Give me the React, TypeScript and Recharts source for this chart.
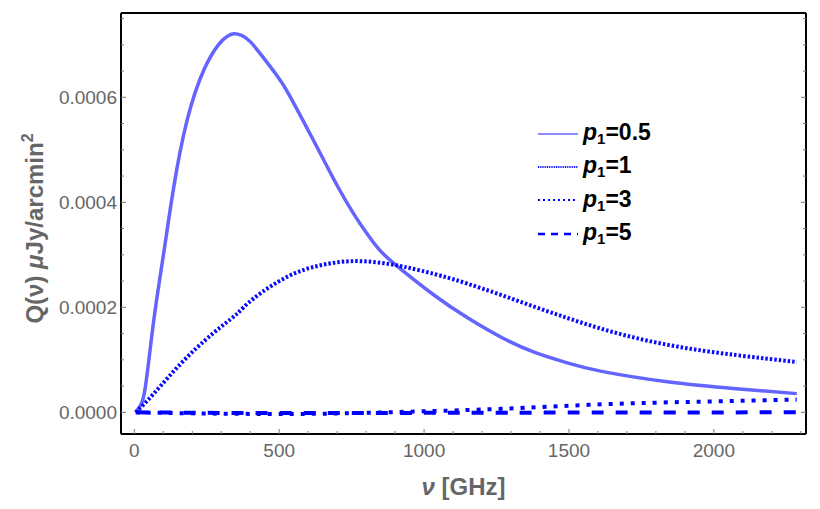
import { Legend, Line, LineChart, XAxis, YAxis } from 'recharts';

// frequency samples (GHz) and Q values (μJy/arcmin²)
const nuHalf = [5, 20, 38, 67, 101, 136, 182, 239, 290, 320, 343, 370, 400, 446, 490, 527, 580, 642, 700, 757, 810, 850, 908, 1035, 1150, 1266, 1382, 1498, 1613, 1846, 2077, 2286];
const qHalf = [0, 0.000012, 0.000048, 0.000175, 0.000302, 0.000429, 0.000556, 0.000651, 0.0007, 0.000716, 0.000721, 0.000718, 0.000706, 0.000675, 0.000643, 0.000612, 0.000558, 0.000493, 0.000432, 0.000378, 0.000335, 0.000307, 0.000278, 0.000223, 0.00018, 0.000143, 0.000114, 0.0000935, 0.000078, 0.0000577, 0.0000451, 0.0000356];

const nuOne = [5, 67, 182, 297, 355, 412, 527, 642, 757, 873, 988, 1150, 1382, 1613, 1846, 2077, 2286];
const qOne = [0, 0.0000356, 0.000105, 0.000162, 0.000188, 0.000217, 0.000258, 0.00028, 0.000288, 0.000283, 0.00027, 0.000245, 0.000201, 0.000159, 0.000128, 0.000109, 0.0000958];

const nuThree = [5, 200, 400, 600, 800, 1000, 1266, 1612, 1961, 2286];
const qThree = [0, -0.000002, -0.000003, -0.000003, -0.000001, 0.000002, 0.0000067, 0.0000152, 0.0000204, 0.0000242];

const nuFive = [5, 500, 1000, 1500, 2286];
const qFive = [0, -0.0000015, -0.000001, -0.0000005, 0];

const seriesNames = ['0.5', '1', '3', '5'];

const xTicks = [0, 100, 200, 300, 400, 500, 600, 700, 800, 900, 1000, 1100, 1200, 1300, 1400, 1500, 1600, 1700, 1800, 1900, 2000, 2100, 2200, 2300];
const xLabelled = [0, 500, 1000, 1500, 2000];
const yTicks = [0, 0.00005, 0.0001, 0.00015, 0.0002, 0.00025, 0.0003, 0.00035, 0.0004, 0.00045, 0.0005, 0.00055, 0.0006, 0.00065, 0.0007, 0.00075];
const yLabelled = [0, 0.0002, 0.0004, 0.0006];

const X_DOMAIN = [-46, 2318];
const Y_DOMAIN = [-0.0000413, 0.0007606];

const FONT = '"Liberation Sans", Arial, sans-serif';
const TICK_GREY = '#7a7a7a';
const LABEL_GREY = '#666666';

const styles = [
    { stroke: '#6464ff', width: 3.5, dash: undefined, legendWidth: 1.5, legendDash: undefined },
    { stroke: '#0a0aff', width: 4, dash: '2.5 2', legendWidth: 2, legendDash: '1 0.8' },
    { stroke: '#0000ff', width: 4, dash: '4 7', legendWidth: 2, legendDash: '2 3' },
    { stroke: '#0000ff', width: 4, dash: '12 12', legendWidth: 2.5, legendDash: '7 6' },
];

const toPoints = (xs: number[], ys: number[]) => xs.map((nu, i) => ({ nu, q: ys[i] }));

const isLabelledX = (v: number) => xLabelled.includes(v);
const isLabelledY = (v: number) => yLabelled.some((m) => Math.abs(m - v) < 1e-9);

function BottomTick({ x, y, payload }: any) {
    const major = isLabelledX(payload.value);
    return (
        <g>
            <line x1={x} x2={x} y1={y} y2={y - (major ? 5 : 3)} stroke={TICK_GREY} />
            {major && (
                <text x={x} y={y + 23} textAnchor="middle" fill={LABEL_GREY} fontSize={19} fontFamily={FONT}>
                    {payload.value}
                </text>
            )}
        </g>
    );
}

function TopTick({ x, y, payload }: any) {
    const major = isLabelledX(payload.value);
    return <line x1={x} x2={x} y1={y} y2={y + (major ? 5 : 3)} stroke={TICK_GREY} />;
}

function LeftTick({ x, y, payload }: any) {
    const major = isLabelledY(payload.value);
    return (
        <g>
            <line x1={x} x2={x + (major ? 5 : 3)} y1={y} y2={y} stroke={TICK_GREY} />
            {major && (
                <text x={x - 4} y={y + 7} textAnchor="end" fill={LABEL_GREY} fontSize={19} fontFamily={FONT}>
                    {payload.value.toFixed(4)}
                </text>
            )}
        </g>
    );
}

function RightTick({ x, y, payload }: any) {
    const major = isLabelledY(payload.value);
    return <line x1={x} x2={x - (major ? 5 : 3)} y1={y} y2={y} stroke={TICK_GREY} />;
}

function XTitle({ viewBox }: any) {
    const cx = viewBox.x + viewBox.width / 2;
    return (
        <text x={cx} y={viewBox.y + 61} textAnchor="middle" fill={LABEL_GREY} fontSize={24} fontWeight="bold" fontFamily={FONT}>
            <tspan fontStyle="italic">ν</tspan>
            <tspan> [GHz]</tspan>
        </text>
    );
}

function YTitle({ viewBox }: any) {
    const cy = viewBox.y + viewBox.height / 2 + 5;
    const cx = 35;
    return (
        <text
            x={cx}
            y={cy}
            transform={`rotate(-90 ${cx} ${cy})`}
            textAnchor="middle"
            fill={LABEL_GREY}
            fontSize={24}
            fontWeight="bold"
            fontFamily={FONT}
        >
            <tspan>Q(ν) </tspan>
            <tspan fontStyle="italic">μ</tspan>
            <tspan>Jy/arcmin</tspan>
            <tspan fontSize={16} dy={-10}>2</tspan>
        </text>
    );
}

function LegendBox() {
    return (
        <div style={{ fontFamily: FONT }}>
            {seriesNames.map((name, i) => (
                <div key={name} style={{ display: 'flex', alignItems: 'center', height: 33.3 }}>
                    <svg width={40} height={10} style={{ display: 'block' }}>
                        <line
                            x1={0}
                            x2={40}
                            y1={5}
                            y2={5}
                            stroke={styles[i].stroke}
                            strokeWidth={styles[i].legendWidth}
                            strokeDasharray={styles[i].legendDash}
                        />
                    </svg>
                    <span style={{ marginLeft: 5, fontSize: 23, fontWeight: 'bold', color: '#000', lineHeight: 1 }}>
                        <i>p</i>
                        <sub style={{ fontSize: 15, verticalAlign: -4 }}>1</sub>={name}
                    </span>
                </div>
            ))}
        </div>
    );
}

const seriesData = [
    toPoints(nuHalf, qHalf),
    toPoints(nuOne, qOne),
    toPoints(nuThree, qThree),
    toPoints(nuFive, qFive),
];

export default function App() {
    const frame = { stroke: '#000', strokeWidth: 2 };
    return (
        <LineChart width={804} height={493} margin={{ top: 4, right: 5, bottom: 0, left: 0 }}>
            <XAxis
                xAxisId={0}
                dataKey="nu"
                type="number"
                domain={X_DOMAIN}
                allowDataOverflow
                ticks={xTicks}
                interval={0}
                height={67}
                tickSize={0}
                tickMargin={0}
                tickLine={false}
                axisLine={frame}
                tick={BottomTick}
                label={{ content: XTitle }}
            />
            <XAxis
                xAxisId="top"
                orientation="top"
                type="number"
                domain={X_DOMAIN}
                allowDataOverflow
                ticks={xTicks}
                interval={0}
                height={1}
                tickSize={0}
                tickMargin={0}
                tickLine={false}
                axisLine={frame}
                tick={TopTick}
            />
            <YAxis
                yAxisId={0}
                type="number"
                domain={Y_DOMAIN}
                allowDataOverflow
                ticks={yTicks}
                interval={0}
                width={113}
                tickSize={0}
                tickMargin={0}
                tickLine={false}
                axisLine={frame}
                tick={LeftTick}
                label={{ content: YTitle }}
            />
            <YAxis
                yAxisId="right"
                orientation="right"
                type="number"
                domain={Y_DOMAIN}
                allowDataOverflow
                ticks={yTicks}
                interval={0}
                width={1}
                tickSize={0}
                tickMargin={0}
                tickLine={false}
                axisLine={frame}
                tick={RightTick}
            />
            <Legend
                layout="horizontal"
                verticalAlign="middle"
                align="center"
                content={LegendBox}
                wrapperStyle={{ left: 530, top: 109, width: 'auto', height: 'auto' }}
            />
            {seriesData.map((points, i) => (
                <Line
                    key={seriesNames[i]}
                    data={points}
                    dataKey="q"
                    name={`p1=${seriesNames[i]}`}
                    type="natural"
                    stroke={styles[i].stroke}
                    strokeWidth={styles[i].width}
                    strokeDasharray={styles[i].dash}
                    dot={false}
                    activeDot={false}
                    isAnimationActive={false}
                />
            ))}
        </LineChart>
    );
}
